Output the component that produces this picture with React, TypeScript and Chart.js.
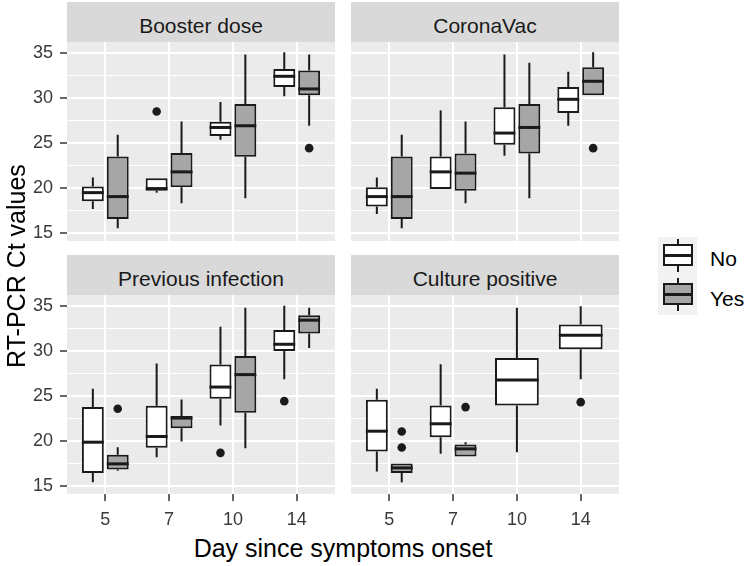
import React, { useEffect, useRef } from 'react';
import { Chart, registerables } from 'chart.js';

Chart.register(...registerables);

const FONT = '"Liberation Sans", Arial, Helvetica, sans-serif';

// ---- data ----
const DAYS = ['5', '7', '10', '14'];
const Y_MAJOR = [15, 20, 25, 30, 35];
const Y_MINOR = [17.5, 22.5, 27.5, 32.5];
const Y_MIN = 14.15;
const Y_MAX = 36.2;

// five-number summaries per day: [lower whisker, Q1, median, Q3, upper whisker]
const boosterNo = [[17.7, 18.56, 19.51, 20.18, 21.18], [19.5, 19.73, 19.96, 21.11, 21.11], [25.37, 25.78, 26.73, 27.37, 29.56], [30.18, 31.22, 32.4, 33.22, 35.07]];
const boosterYes = [[15.56, 16.59, 19.07, 23.51, 25.92], [18.33, 20.11, 21.81, 23.89, 27.4], [18.89, 23.48, 26.92, 29.33, 34.81], [26.92, 30.29, 31.0, 33.03, 34.81]];
const boosterNoOut = [[], [28.5], [], []];
const boosterYesOut = [[], [], [], [24.44]];

const coronaNo = [[17.14, 17.96, 19.07, 20.11, 21.18], [19.92, 19.92, 21.81, 23.51, 28.62], [23.59, 24.81, 26.11, 28.96, 34.81], [26.92, 28.33, 29.85, 31.22, 32.89]];
const coronaYes = [[15.56, 16.59, 19.07, 23.51, 25.92], [18.33, 19.73, 21.67, 23.85, 27.4], [18.89, 23.85, 26.73, 29.33, 33.89], [30.29, 30.29, 31.85, 33.4, 35.07]];
const coronaNoOut = [[], [], [], []];
const coronaYesOut = [[], [], [], [24.44]];

const prevNo = [[15.44, 16.49, 19.89, 23.78, 25.82], [18.22, 19.27, 20.52, 23.93, 28.6], [21.74, 24.71, 26.0, 28.49, 32.67], [26.86, 30.0, 30.74, 32.33, 35.0]];
const prevYes = [[16.74, 16.86, 17.49, 18.49, 19.33], [19.97, 21.44, 22.56, 22.78, 24.63], [19.22, 23.16, 27.38, 29.44, 34.78], [30.33, 31.93, 33.41, 33.97, 34.78]];
const prevNoOut = [[], [], [18.71], [24.44]];
const prevYesOut = [[23.6], [], [], []];

const cultureNo = [[16.63, 18.86, 21.11, 24.6, 25.82], [18.6, 20.44, 21.93, 23.97, 28.52], [18.78, 23.97, 26.78, 29.22, 34.78], [26.86, 30.19, 31.74, 32.93, 34.96]];
const cultureYes = [[15.44, 16.49, 17.04, 17.52, 17.52], [18.3, 18.3, 19.15, 19.63, 19.89], null, null];
const cultureNoOut = [[], [], [], [24.33]];
const cultureYesOut = [[21.08, 19.3], [23.78], [], []];

// ---- styles ----
const PANEL_BG = '#ebebeb';
const STRIP_BG = '#d9d9d9';
const LINE = '#1a1a1a';
const NO_FILL = '#ffffff';
const YES_FILL = '#a6a6a6';
const AXIS = '#333333';
const AXIS_TEXT = '#3a3a3a';

const PANEL_W = 268;
const PANEL_H = 199;
const AXIS_W = 67;
const PAD_TOP = 20;
const X_AXIS_H = 40;
const PAD_RIGHT = 5;

type Summary = number[] | null;

const boxPlugin = {
  id: 'boxes',
  beforeDraw(chart: any) {
    const { ctx, chartArea: a } = chart;
    ctx.save();
    ctx.fillStyle = PANEL_BG;
    ctx.fillRect(a.left, a.top, a.right - a.left, a.bottom - a.top);
    ctx.restore();
  },
  beforeDatasetsDraw(chart: any) {
    const { ctx } = chart;
    const ys = chart.scales.y;
    ctx.save();
    ctx.strokeStyle = LINE;
    ctx.lineWidth = 2;
    chart.data.datasets.forEach((ds: any, di: number) => {
      const meta = chart.getDatasetMeta(di);
      meta.data.forEach((bar: any, i: number) => {
        const s = ds.summary[i];
        if (!s) return;
        const { x } = bar.getProps(['x'], true);
        ctx.beginPath();
        ctx.moveTo(x, ys.getPixelForValue(s[0]));
        ctx.lineTo(x, ys.getPixelForValue(s[1]));
        ctx.moveTo(x, ys.getPixelForValue(s[3]));
        ctx.lineTo(x, ys.getPixelForValue(s[4]));
        ctx.stroke();
      });
    });
    ctx.restore();
  },
  afterDatasetsDraw(chart: any) {
    const { ctx } = chart;
    const ys = chart.scales.y;
    ctx.save();
    chart.data.datasets.forEach((ds: any, di: number) => {
      const meta = chart.getDatasetMeta(di);
      meta.data.forEach((bar: any, i: number) => {
        const s = ds.summary[i];
        if (!s) return;
        const { x, width } = bar.getProps(['x', 'width'], true);
        const ym = ys.getPixelForValue(s[2]);
        ctx.strokeStyle = LINE;
        ctx.lineWidth = 3;
        ctx.beginPath();
        ctx.moveTo(x - width / 2, ym);
        ctx.lineTo(x + width / 2, ym);
        ctx.stroke();
        ctx.fillStyle = LINE;
        (ds.outliers[i] || []).forEach((v: number) => {
          ctx.beginPath();
          ctx.arc(x, ys.getPixelForValue(v), 4.3, 0, Math.PI * 2);
          ctx.fill();
        });
      });
    });
    ctx.restore();
  },
};

interface PanelProps {
  title: string;
  no: Summary[];
  yes: Summary[];
  noOut: number[][];
  yesOut: number[][];
  left: number;
  top: number;
  showX: boolean;
  showY: boolean;
}

function Panel(p: PanelProps) {
  const ref = useRef<HTMLCanvasElement>(null);
  useEffect(() => {
    const toBars = (arr: Summary[]) => arr.map((s, i) => ({ x: i, y: s ? [s[1], s[3]] : null }));
    const common = {
      borderColor: LINE,
      borderWidth: 2,
      borderSkipped: false,
      skipNull: true,
      categoryPercentage: 0.78,
      barPercentage: 0.88,
    };
    const chart = new Chart(ref.current as HTMLCanvasElement, {
      type: 'bar',
      data: {
        datasets: [
          { label: 'No', data: toBars(p.no), summary: p.no, outliers: p.noOut, backgroundColor: NO_FILL, ...common } as any,
          { label: 'Yes', data: toBars(p.yes), summary: p.yes, outliers: p.yesOut, backgroundColor: YES_FILL, ...common } as any,
        ],
      },
      options: {
        responsive: false,
        animation: false,
        events: [],
        layout: { padding: { top: PAD_TOP, right: PAD_RIGHT, left: 0, bottom: 0 } },
        plugins: { legend: { display: false }, tooltip: { enabled: false } },
        scales: {
          x: {
            type: 'linear',
            min: -0.6,
            max: 3.6,
            offset: false,
            afterBuildTicks: (s: any) => {
              s.ticks = DAYS.map((_, i) => ({ value: i }));
            },
            afterFit: (s: any) => {
              s.height = X_AXIS_H;
            },
            border: { display: false },
            grid: {
              offset: false,
              color: '#ffffff',
              lineWidth: 2,
              drawTicks: true,
              tickLength: 7,
              tickColor: p.showX ? AXIS : 'rgba(0,0,0,0)',
              tickWidth: 1.5,
            },
            ticks: {
              display: p.showX,
              padding: 8,
              autoSkip: false,
              maxRotation: 0,
              font: { size: 18, family: FONT },
              color: AXIS_TEXT,
              callback: (v: any) => DAYS[Number(v)] ?? '',
            },
          },
          y: {
            type: 'linear',
            min: Y_MIN,
            max: Y_MAX,
            afterBuildTicks: (s: any) => {
              s.ticks = [...Y_MAJOR, ...Y_MINOR].sort((a, b) => a - b).map((v) => ({ value: v }));
            },
            afterFit: (s: any) => {
              s.width = AXIS_W;
            },
            border: { display: false },
            grid: {
              color: '#ffffff',
              lineWidth: (c: any) => (c.tick && Y_MAJOR.includes(c.tick.value) ? 2 : 1),
              drawTicks: true,
              tickLength: 7,
              tickColor: (c: any) => (p.showY && c.tick && Y_MAJOR.includes(c.tick.value) ? AXIS : 'rgba(0,0,0,0)'),
              tickWidth: 1.5,
            },
            ticks: {
              display: p.showY,
              padding: 7,
              autoSkip: false,
              font: { size: 18, family: FONT },
              color: AXIS_TEXT,
              callback: (v: any) => (Y_MAJOR.includes(Number(v)) ? String(v) : ''),
            },
          },
        },
      } as any,
      plugins: [boxPlugin as any],
    });
    return () => chart.destroy();
  }, []);

  return (
    <>
      <div
        style={{
          position: 'absolute',
          left: p.left,
          top: p.top - 40,
          width: PANEL_W,
          height: 40,
          background: STRIP_BG,
          color: '#1a1a1a',
          fontFamily: FONT,
          fontSize: 21,
          lineHeight: '47px',
          textAlign: 'center',
          whiteSpace: 'nowrap',
        }}
      >
        {p.title}
      </div>
      <canvas
        ref={ref}
        width={PANEL_W + AXIS_W + PAD_RIGHT}
        height={PANEL_H + PAD_TOP + X_AXIS_H}
        style={{ position: 'absolute', left: p.left - AXIS_W, top: p.top - PAD_TOP }}
      />
    </>
  );
}

function LegendKey({ top, fill }: { top: number; fill: string }) {
  return (
    <div style={{ position: 'absolute', left: 658, top, width: 39, height: 39, background: '#f2f2f2' }}>
      <div style={{ position: 'absolute', left: 18.5, top: 2, width: 2, height: 6, background: LINE }} />
      <div style={{ position: 'absolute', left: 18.5, top: 29, width: 2, height: 6, background: LINE }} />
      <div
        style={{
          position: 'absolute',
          left: 5,
          top: 7,
          width: 30,
          height: 22,
          boxSizing: 'border-box',
          border: `2px solid ${LINE}`,
          background: fill,
        }}
      />
      <div style={{ position: 'absolute', left: 5, top: 16.5, width: 30, height: 3, background: LINE }} />
    </div>
  );
}

export default function App() {
  return (
    <div style={{ position: 'absolute', left: 0, top: 0, width: 750, height: 566, background: '#ffffff', overflow: 'hidden' }}>
      <Panel title="Booster dose" no={boosterNo} yes={boosterYes} noOut={boosterNoOut} yesOut={boosterYesOut} left={67} top={42} showX={false} showY={true} />
      <Panel title="CoronaVac" no={coronaNo} yes={coronaYes} noOut={coronaNoOut} yesOut={coronaYesOut} left={351} top={42} showX={false} showY={false} />
      <Panel title="Previous infection" no={prevNo} yes={prevYes} noOut={prevNoOut} yesOut={prevYesOut} left={67} top={295} showX={true} showY={true} />
      <Panel title="Culture positive" no={cultureNo} yes={cultureYes} noOut={cultureNoOut} yesOut={cultureYesOut} left={351} top={295} showX={true} showY={false} />

      <div
        style={{
          position: 'absolute',
          left: 16 - 150,
          top: 266 - 15,
          width: 300,
          height: 30,
          lineHeight: '30px',
          textAlign: 'center',
          fontFamily: FONT,
          fontSize: 25,
          color: '#000',
          transform: 'rotate(-90deg)',
          whiteSpace: 'nowrap',
        }}
      >
        RT-PCR Ct values
      </div>
      <div
        style={{
          position: 'absolute',
          left: 343 - 200,
          top: 536,
          width: 400,
          height: 25,
          lineHeight: '25px',
          textAlign: 'center',
          fontFamily: FONT,
          fontSize: 25,
          color: '#000',
          whiteSpace: 'nowrap',
        }}
      >
        Day since symptoms onset
      </div>

      <LegendKey top={237} fill={NO_FILL} />
      <LegendKey top={276} fill={YES_FILL} />
      <div style={{ position: 'absolute', left: 710, top: 248, fontFamily: FONT, fontSize: 21, lineHeight: '21px', color: '#000' }}>No</div>
      <div style={{ position: 'absolute', left: 710, top: 288, fontFamily: FONT, fontSize: 21, lineHeight: '21px', color: '#000' }}>Yes</div>
    </div>
  );
}
